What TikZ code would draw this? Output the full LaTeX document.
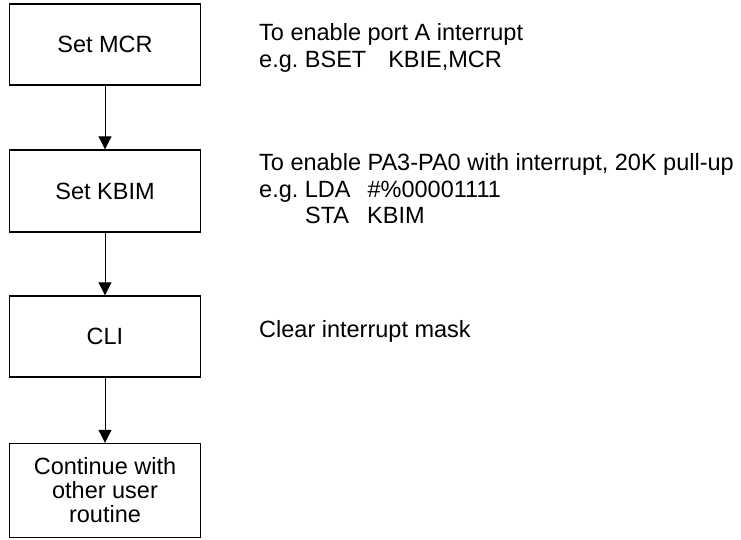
\documentclass[tikz,border=0pt]{standalone}
\usepackage{fontspec}
\setmainfont{Liberation Sans}
\usetikzlibrary{arrows.meta}
\frenchspacing
\begin{document}
\begin{tikzpicture}[x=1pt,y=1pt,
  stepbox/.style={draw=black, line width=1.4pt, minimum width=191pt, inner sep=0pt, align=center,
    font=\fontsize{23.5}{24}\selectfont},
  note/.style={anchor=base west, inner sep=0pt, font=\fontsize{23.5}{27}\selectfont},
  flow/.style={line width=1pt, -{Triangle[length=13pt,width=13pt]}}]
\fill[white] (0,0) rectangle (741,-539);
\useasboundingbox (0,0) rectangle (741,-539);
\node[stepbox, minimum height=81pt] (b1) at (105,-44.5) {Set MCR};
\node[stepbox, minimum height=82pt] (b2) at (105,-191) {Set KBIM};
\node[stepbox, minimum height=81pt] (b3) at (105,-336.5) {CLI};
\node[stepbox, minimum height=94pt] (b4) at (105,-490.5) {Continue with\\other user\\routine};
\draw[flow] (b1.south) -- (b2.north);
\draw[flow] (b2.south) -- (b3.north);
\draw[flow] (b3.south) -- (b4.north);
\node[note] (n1) at (259,-40) {To enable port A interrupt};
\node[note] (n2) at (259,-67) {e.g. BSET\hspace{22pt}KBIE,MCR};
\node[note] (n3) at (259,-170) {To enable PA3-PA0 with interrupt, 20K pull-up};
\node[note] (n4) at (259,-197) {e.g. LDA\hspace{17pt}\#\%00001111};
\node[note] (n5) at (305,-223) {STA\hspace{18pt}KBIM};
\node[note] (n6) at (259,-337) {Clear interrupt mask};
\end{tikzpicture}
\end{document}
